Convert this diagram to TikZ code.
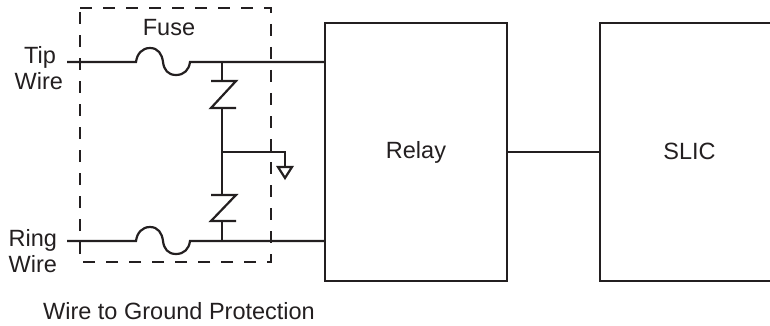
\documentclass[tikz,border=0pt]{standalone}
\usepackage{fontspec}
\setmainfont{Liberation Sans}
\definecolor{ink}{HTML}{231F20}
\tikzset{
  wire/.style={draw=ink,line width=2.2pt},
  dashbox/.style={draw=ink,line width=2.2pt,dash pattern=on 12pt off 11pt},
  lbl/.style={text=ink,font=\fontsize{23.5}{25}\selectfont,inner sep=0pt,outer sep=0pt,align=center}
}
\begin{document}
\begin{tikzpicture}[x=1pt,y=-1pt]
\useasboundingbox (0,0) rectangle (770,326);
% protection box
\draw[dashbox] (80,8) -- (271,8) -- (271,262) -- (80,262) -- (80,8);
% blocks
\node[draw=ink,line width=2.2pt,minimum width=182pt,minimum height=258pt,anchor=north west,lbl] (relay) at (325,23) {Relay};
\coordinate (slicNW) at (600,23);
\coordinate (slicSW) at (600,281);
\coordinate (slicNE) at (770,23);
\coordinate (slicSE) at (770,281);
\draw[wire] (slicNE) -- (slicNW) -- (slicSW) -- (slicSE);
\node[lbl] (slic) at (689.5,151.5) {SLIC};
\coordinate (slicW) at (600,152);
\draw[wire] (relay.east) -- (slicW);
% tip wire
\coordinate (tipL) at (67,62);
\coordinate (tipJ) at (222,62);
\coordinate (tipR) at (325,62);
\draw[wire] (tipL) -- (136,62)
  .. controls (137,54) and (142,48) .. (150,48)
  .. controls (158,48) and (162,54) .. (163,62)
  .. controls (164,70) and (168,75) .. (176,75)
  .. controls (184,75) and (189,70) .. (190,62)
  -- (tipR);
% ring wire
\coordinate (rngL) at (67,241);
\coordinate (rngJ) at (222,241);
\coordinate (rngR) at (325,241);
\draw[wire] (rngL) -- (136,241)
  .. controls (137,233) and (142,227) .. (150,227)
  .. controls (158,227) and (162,233) .. (163,241)
  .. controls (164,249) and (168,254) .. (176,254)
  .. controls (184,254) and (189,249) .. (190,241)
  -- (rngR);
% varistors
\draw[wire] (tipJ) -- (222,81);
\draw[wire] (211,81) -- (236,81) -- (211,108) -- (236,108);
\draw[wire] (222,108) -- (222,195);
\draw[wire] (211,195) -- (236,195) -- (211,221) -- (236,221);
\draw[wire] (222,221) -- (rngJ);
% ground
\coordinate (gndJ) at (222,152);
\coordinate (gndB) at (285,152);
\draw[wire] (gndJ) -- (gndB) -- (285,167);
\draw[draw=ink,line width=2.2pt,line join=miter] (278,167) -- (292,167) -- (285,178) -- cycle;
% labels
\node[lbl] (fuse) at (169,28) {Fuse};
\node[lbl,anchor=east] (tip) at (56,57) {Tip};
\node[lbl,anchor=east] (wireA) at (63,81) {Wire};
\node[lbl,anchor=east] (ring) at (57,240) {Ring};
\node[lbl,anchor=east] (wireB) at (57,264) {Wire};
\node[lbl] (cap) at (179,311) {Wire to Ground Protection};
\end{tikzpicture}
\end{document}
